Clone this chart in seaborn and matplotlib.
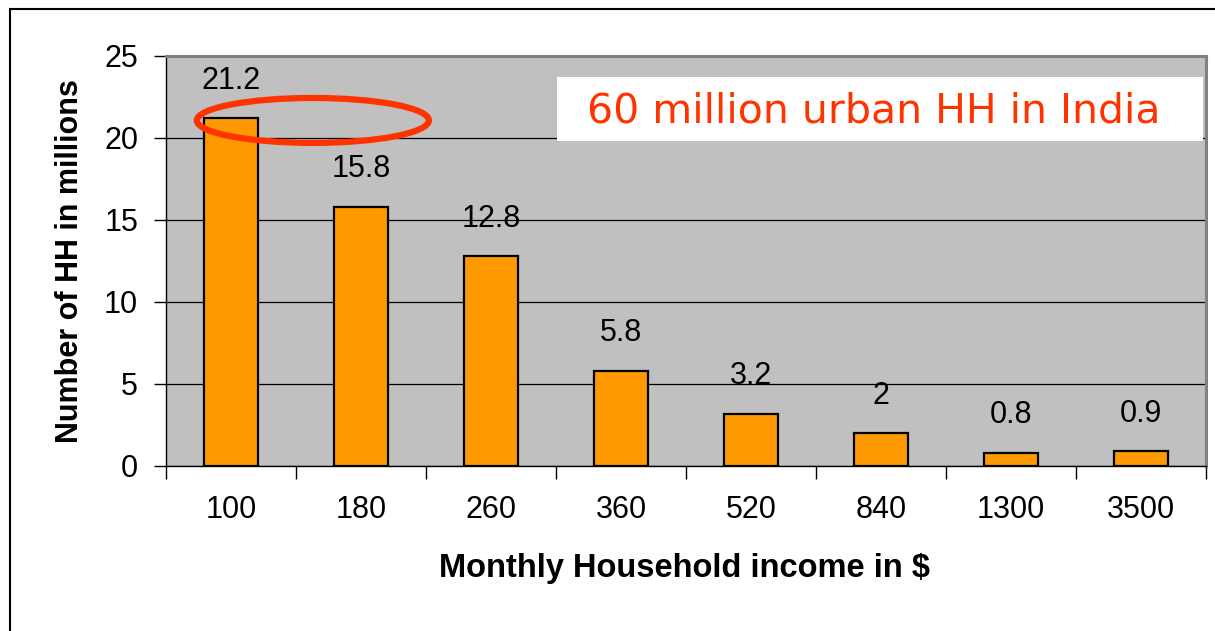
"""
Urban household distribution in India by monthly household income.
"""

import matplotlib
matplotlib.use("Agg")
import matplotlib.pyplot as plt
from matplotlib.patches import Ellipse, Rectangle
from matplotlib.ticker import FixedLocator
import seaborn as sns

# Data
income_bands = ["100", "180", "260", "360", "520", "840", "1300", "3500"]
households_mn = [21.2, 15.8, 12.8, 5.8, 3.2, 2.0, 0.8, 0.9]
value_labels = ["21.2", "15.8", "12.8", "5.8", "3.2", "2", "0.8", "0.9"]
y_ticks = [0, 5, 10, 15, 20, 25]

callout_text = "60 million urban HH in India"
x_title = "Monthly Household income in $"
y_title = "Number of HH in millions"

BAR_COLOR = "#FF9900"
PLOT_BG = "#C0C0C0"
RED = "#FF3300"

sns.set_style("white")
plt.rcParams["font.family"] = ["Liberation Sans", "DejaVu Sans"]
plt.rcParams["text.color"] = "black"
plt.rcParams["axes.labelcolor"] = "black"
plt.rcParams["xtick.color"] = "black"
plt.rcParams["ytick.color"] = "black"

fig = plt.figure(figsize=(12.15, 6.31), dpi=100)
ax = fig.add_axes([0.1366, 0.2615, 0.8560, 0.6498])
ax.set_facecolor(PLOT_BG)

sns.barplot(x=income_bands, y=households_mn, color=BAR_COLOR, saturation=1,
            edgecolor="black", linewidth=1.6, width=0.42, ax=ax)

# value labels above each bar
for i, (v, lab) in enumerate(zip(households_mn, value_labels)):
    ax.annotate(lab, (i, v), xytext=(0, 27), textcoords="offset points",
                ha="center", va="center", fontsize=22, color="black")

ax.set_xlim(-0.5, len(income_bands) - 0.5)
ax.set_ylim(0, 25)
ax.set_yticks(y_ticks)
ax.yaxis.grid(True, color="black", linewidth=0.9)
ax.set_axisbelow(True)

# category labels centred, tick marks between categories
ax.xaxis.set_minor_locator(FixedLocator([i - 0.5 for i in range(len(income_bands) + 1)]))
ax.tick_params(axis="x", which="both", bottom=True)
ax.tick_params(axis="x", which="major", length=0, pad=21, labelsize=22)
ax.tick_params(axis="x", which="minor", length=9, width=1, color="black", direction="out")
ax.tick_params(axis="y", left=True, length=9, width=1, color="black", direction="out",
               pad=11, labelsize=22)

for side in ["left", "bottom"]:
    ax.spines[side].set_color("black")
    ax.spines[side].set_linewidth(1.0)
for side in ["top", "right"]:
    ax.spines[side].set_color("#808080")
    ax.spines[side].set_linewidth(2.2)

ax.set_xlabel(x_title, fontsize=23.5, fontweight="bold", va="center")
ax.xaxis.set_label_coords(0.499, -0.25)
ax.set_ylabel(y_title, fontsize=22, fontweight="bold", va="center", ha="center")
ax.yaxis.set_label_coords(-0.092, 0.5)

# highlight around the lowest income band
ax.add_patch(Ellipse((0.63, 21.07), 1.785, 2.74, fill=False,
                     edgecolor=RED, linewidth=4.5, zorder=5))

# callout box
ax.add_patch(Rectangle((0.376, 0.793), 0.621, 0.156, transform=ax.transAxes,
                       facecolor="white", edgecolor="none", zorder=4))
ax.text(0.681, 0.864, callout_text, transform=ax.transAxes, ha="center",
        va="center", fontsize=29.5, color=RED, family=["DejaVu Sans"], zorder=6)

# outer frame (left and top edges visible)
fig.patches.append(Rectangle((0.0082, -0.1), 1.2, 0.985 + 0.1,
                             transform=fig.transFigure, fill=False,
                             edgecolor="black", linewidth=1.5))

fig.savefig("out.png", dpi=100)
